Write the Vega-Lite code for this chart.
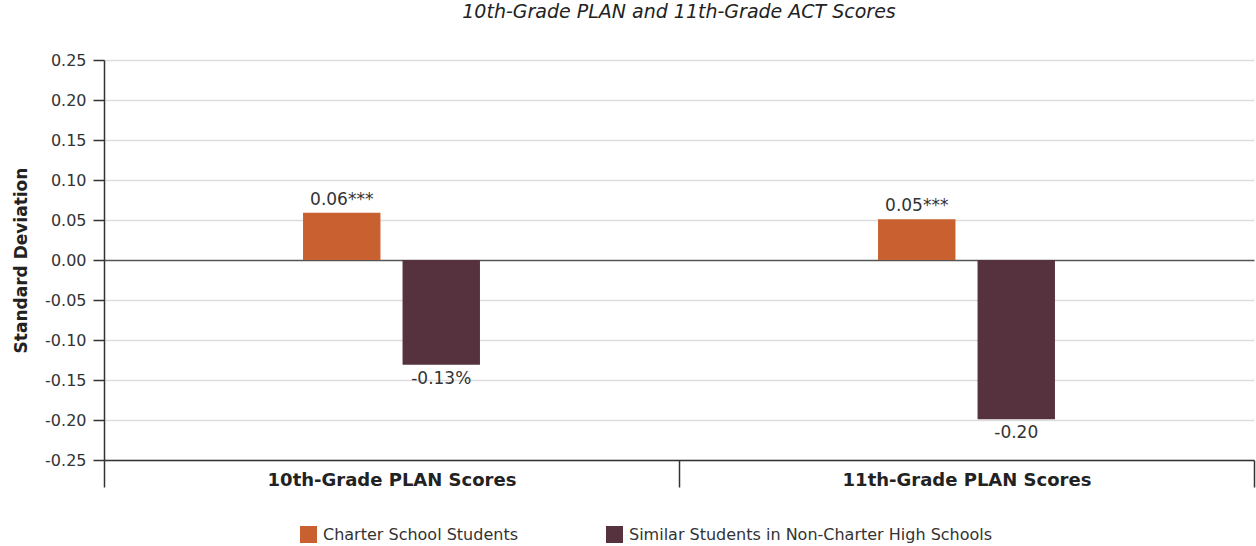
{
  "$schema": "https://vega.github.io/schema/vega-lite/v6.json",
  "autosize": {"type": "none"},
  "width": 1150,
  "height": 400,
  "padding": {"left": 104, "top": 60, "right": 2, "bottom": 86},
  "title": {
    "text": "10th-Grade PLAN and 11th-Grade ACT Scores",
    "anchor": "middle",
    "offset": 30,
    "fontSize": 19,
    "fontStyle": "italic",
    "fontWeight": "normal",
    "font": "DejaVu Sans",
    "color": "#222"
  },
  "config": {
    "view": {"stroke": null},
    "font": "DejaVu Sans"
  },
  "data": {
    "values": [
      {"test": "10th-Grade PLAN Scores", "group": "Charter School Students", "value": 0.059, "label": "0.06***"},
      {"test": "10th-Grade PLAN Scores", "group": "Similar Students in Non-Charter High Schools", "value": -0.131, "label": "-0.13%"},
      {"test": "11th-Grade PLAN Scores", "group": "Charter School Students", "value": 0.051, "label": "0.05***"},
      {"test": "11th-Grade PLAN Scores", "group": "Similar Students in Non-Charter High Schools", "value": -0.199, "label": "-0.20"}
    ]
  },
  "encoding": {
    "x": {
      "field": "test",
      "type": "nominal",
      "sort": null,
      "scale": {"paddingInner": 0, "paddingOuter": 0},
      "axis": {
        "title": null,
        "labelAngle": 0,
        "labelLimit": 0,
        "tickBand": "extent",
        "tickSize": 27,
        "tickColor": "#333",
        "tickWidth": 1.5,
        "domainColor": "#333",
        "domainWidth": 1.5,
        "labelPadding": -16,
        "labelFontSize": 18,
        "labelFontWeight": "bold",
        "labelColor": "#222",
        "grid": false
      }
    },
    "xOffset": {
      "field": "group",
      "type": "nominal",
      "scale": {
        "domain": ["padA", "Charter School Students", "Similar Students in Non-Charter High Schools", "padB"],
        "paddingInner": 0.222,
        "paddingOuter": 1
      }
    },
    "y": {
      "field": "value",
      "type": "quantitative",
      "scale": {"domain": [-0.25, 0.25], "nice": false, "zero": false},
      "axis": {
        "title": "Standard Deviation",
        "titleFontSize": 17,
        "titleFontWeight": "bold",
        "titleColor": "#222",
        "titlePadding": 14,
        "values": [-0.25, -0.2, -0.15, -0.1, -0.05, 0, 0.05, 0.1, 0.15, 0.2, 0.25],
        "labelExpr": "replace(format(datum.value, '.2f'), '\u2212', '-')",
        "labelFontSize": 16,
        "labelColor": "#333",
        "labelPadding": 7,
        "tickSize": 11,
        "tickColor": "#333",
        "tickWidth": 1.5,
        "domainColor": "#333",
        "domainWidth": 1.5,
        "grid": true,
        "gridColor": {"condition": {"test": "datum.value === 0", "value": "#555"}, "value": "#ddd"},
        "gridWidth": 1.5
      }
    }
  },
  "layer": [
    {
      "mark": {"type": "bar"},
      "encoding": {
        "color": {
          "field": "group",
          "type": "nominal",
          "scale": {
            "domain": ["Charter School Students", "Similar Students in Non-Charter High Schools"],
            "range": ["#C8602F", "#55323E"]
          },
          "legend": {
            "title": null,
            "orient": "none",
            "direction": "horizontal",
            "legendX": 196,
            "legendY": 466,
            "symbolType": "square",
            "symbolSize": 289,
            "symbolStrokeWidth": 0,
            "symbolOpacity": 1,
            "labelFontSize": 16,
            "labelColor": "#333",
            "labelLimit": 0,
            "columnPadding": 88,
            "labelOffset": 6
          }
        }
      }
    },
    {
      "transform": [{"filter": "datum.value >= 0"}],
      "mark": {"type": "text", "baseline": "bottom", "dy": -4, "fontSize": 17, "color": "#333"},
      "encoding": {"text": {"field": "label"}}
    },
    {
      "transform": [{"filter": "datum.value < 0"}],
      "mark": {"type": "text", "baseline": "top", "dy": 6, "fontSize": 17, "color": "#333"},
      "encoding": {"text": {"field": "label"}}
    }
  ]
}
